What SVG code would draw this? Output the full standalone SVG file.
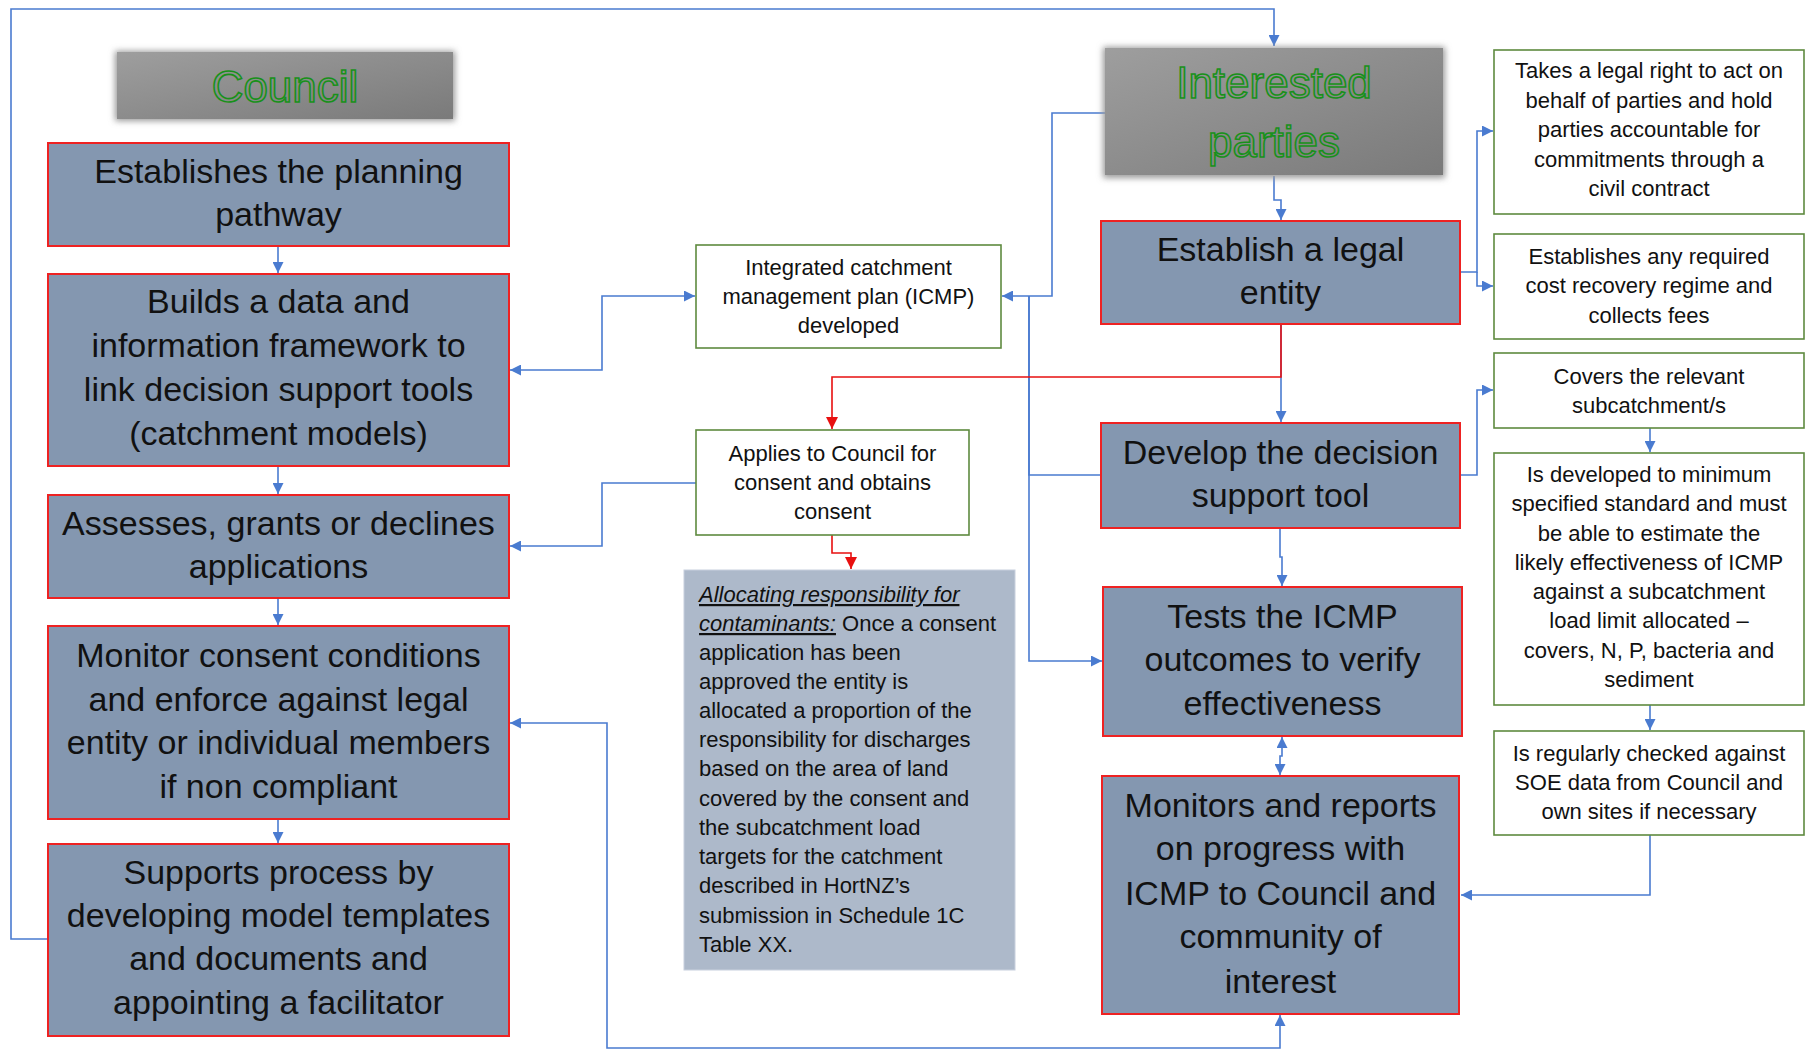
<svg xmlns="http://www.w3.org/2000/svg" width="1805" height="1051" viewBox="0 0 1805 1051">
<style>
  .big { fill: #8497b0; stroke: #ee2222; stroke-width: 2; }
  .small { fill: #ffffff; stroke: #5e8a3f; stroke-width: 1.6; }
  .alloc { fill: #adb9ca; stroke: #c8d0de; stroke-width: 1; }
  .hdr { fill: url(#hdrGrad); }
  .shadow { fill: #9a9a9a; filter: url(#soft); }
  text { font-family: "Liberation Sans", Arial, sans-serif; fill: #111111; }
  .tb { font-size: 34px; text-anchor: middle; }
  .ts { font-size: 22px; text-anchor: middle; }
  .ta { font-size: 22px; }
  .th { font-size: 44px; text-anchor: middle; fill: #2aa02a; fill-opacity: 0.05; stroke: #18911a; stroke-width: 1.6; }
  .c { fill: none; stroke: #4a7bd0; stroke-width: 1.6; }
  .cr { fill: none; stroke: #e81010; stroke-width: 1.6; }
</style>
<defs>
  <linearGradient id="hdrGrad" x1="0" y1="0" x2="1" y2="1">
    <stop offset="0" stop-color="#9e9e9e"/>
    <stop offset="1" stop-color="#7a7a7a"/>
  </linearGradient>
  <filter id="soft" x="-10%" y="-20%" width="120%" height="140%">
    <feGaussianBlur stdDeviation="3"/>
  </filter>
  <marker id="ab" viewBox="0 0 10 10" refX="10" refY="5" markerWidth="11" markerHeight="11" markerUnits="userSpaceOnUse" orient="auto-start-reverse">
    <path d="M0,0 L10,5 L0,10 z" fill="#4a7bd0"/>
  </marker>
  <marker id="ar" viewBox="0 0 10 10" refX="10" refY="5" markerWidth="12" markerHeight="12" markerUnits="userSpaceOnUse" orient="auto-start-reverse">
    <path d="M0,0 L10,5 L0,10 z" fill="#e81010"/>
  </marker>
</defs>
<rect width="1805" height="1051" fill="#ffffff"/>

<g id="connectors">
  <path class="c" d="M48,939 H11 V9 H1274 V46" marker-end="url(#ab)"/>
  <path class="c" d="M278,246 V273" marker-end="url(#ab)"/>
  <path class="c" d="M278,466 V494" marker-end="url(#ab)"/>
  <path class="c" d="M278,598 V625" marker-end="url(#ab)"/>
  <path class="c" d="M278,819 V843" marker-end="url(#ab)"/>
  <path class="c" d="M510,370 H602 V296 H695" marker-start="url(#ab)" marker-end="url(#ab)"/>
  <path class="c" d="M696,483 H602 V546 H510" marker-end="url(#ab)"/>
  <path class="c" d="M510,723 H607 V1048 H1280 V1015" marker-start="url(#ab)" marker-end="url(#ab)"/>
  <path class="c" d="M1105,113 H1052 V296 H1002" marker-end="url(#ab)"/>
  <path class="c" d="M1101,475 H1029 V296"/>
  <path class="c" d="M1029,296 V661 H1102" marker-end="url(#ab)"/>
  <path class="c" d="M1274,176 V200 H1281 V220" marker-end="url(#ab)"/>
  <path class="c" d="M1460,272 H1477 V131 H1493" marker-end="url(#ab)"/>
  <path class="c" d="M1477,272 V286 H1493" marker-end="url(#ab)"/>
  <path class="c" d="M1281,324 V422" marker-end="url(#ab)"/>
  <path class="cr" d="M1281,324 V377 H832 V429" marker-end="url(#ar)"/>
  <path class="c" d="M1460,475 H1477 V390 H1493" marker-end="url(#ab)"/>
  <path class="c" d="M1650,428 V452" marker-end="url(#ab)"/>
  <path class="c" d="M1650,705 V730" marker-end="url(#ab)"/>
  <path class="c" d="M1650,835 V895 H1461" marker-end="url(#ab)"/>
  <path class="c" d="M1280,528 V557 H1282 V586" marker-end="url(#ab)"/>
  <path class="c" d="M1282,737 V756 H1280 V775" marker-start="url(#ab)" marker-end="url(#ab)"/>
  <path class="cr" d="M832,535 V553 H851 V569" marker-end="url(#ar)"/>
</g>

<g id="council-header">
  <rect class="shadow" x="115" y="51" width="340" height="70"/>
  <rect class="hdr" x="117" y="52" width="336" height="67"/>
  <text class="th" x="285" y="102">Council</text>
</g>

<g id="interested-parties-header">
  <rect class="shadow" x="1103" y="47" width="342" height="131"/>
  <rect class="hdr" x="1105" y="48" width="338" height="127"/>
  <text class="th" x="1274" y="98">Interested</text>
  <text class="th" x="1274" y="157">parties</text>
</g>

<g id="b1">
  <rect class="big" x="48" y="143" width="461" height="103"/>
  <text class="tb" x="278.5" y="183">Establishes the planning</text>
  <text class="tb" x="278.5" y="226">pathway</text>
</g>
<g id="b2">
  <rect class="big" x="48" y="274" width="461" height="192"/>
  <text class="tb" x="278.5" y="313">Builds a data and</text>
  <text class="tb" x="278.5" y="357">information framework to</text>
  <text class="tb" x="278.5" y="401">link decision support tools</text>
  <text class="tb" x="278.5" y="445">(catchment models)</text>
</g>
<g id="b3">
  <rect class="big" x="48" y="495" width="461" height="103"/>
  <text class="tb" x="278.5" y="535">Assesses, grants or declines</text>
  <text class="tb" x="278.5" y="578">applications</text>
</g>
<g id="b4">
  <rect class="big" x="48" y="626" width="461" height="193"/>
  <text class="tb" x="278.5" y="667">Monitor consent conditions</text>
  <text class="tb" x="278.5" y="711">and enforce against legal</text>
  <text class="tb" x="278.5" y="754">entity or individual members</text>
  <text class="tb" x="278.5" y="798">if non compliant</text>
</g>
<g id="b5">
  <rect class="big" x="48" y="844" width="461" height="192"/>
  <text class="tb" x="278.5" y="884">Supports process by</text>
  <text class="tb" x="278.5" y="927">developing model templates</text>
  <text class="tb" x="278.5" y="970">and documents and</text>
  <text class="tb" x="278.5" y="1014">appointing a facilitator</text>
</g>

<g id="icmp">
  <rect class="small" x="696" y="245" width="305" height="103"/>
  <text class="ts" x="848.5" y="275">Integrated catchment</text>
  <text class="ts" x="848.5" y="304">management plan (ICMP)</text>
  <text class="ts" x="848.5" y="333">developed</text>
</g>
<g id="applies">
  <rect class="small" x="696" y="430" width="273" height="105"/>
  <text class="ts" x="832.5" y="461">Applies to Council for</text>
  <text class="ts" x="832.5" y="490">consent and obtains</text>
  <text class="ts" x="832.5" y="519">consent</text>
</g>
<g id="allocating">
  <rect class="alloc" x="684" y="570" width="331" height="400"/>
  <text class="ta" x="699" y="602"><tspan font-style="italic" text-decoration="underline">Allocating responsibility for</tspan></text>
  <text class="ta" x="699" y="631"><tspan font-style="italic" text-decoration="underline">contaminants:</tspan> Once a consent</text>
  <text class="ta" x="699" y="660">application has been</text>
  <text class="ta" x="699" y="689">approved the entity is</text>
  <text class="ta" x="699" y="718">allocated a proportion of the</text>
  <text class="ta" x="699" y="747">responsibility for discharges</text>
  <text class="ta" x="699" y="776">based on the area of land</text>
  <text class="ta" x="699" y="806">covered by the consent and</text>
  <text class="ta" x="699" y="835">the subcatchment load</text>
  <text class="ta" x="699" y="864">targets for the catchment</text>
  <text class="ta" x="699" y="893">described in HortNZ’s</text>
  <text class="ta" x="699" y="923">submission in Schedule 1C</text>
  <text class="ta" x="699" y="952">Table XX.</text>
</g>

<g id="establish">
  <rect class="big" x="1101" y="221" width="359" height="103"/>
  <text class="tb" x="1280.5" y="261">Establish a legal</text>
  <text class="tb" x="1280.5" y="304">entity</text>
</g>
<g id="develop">
  <rect class="big" x="1101" y="423" width="359" height="105"/>
  <text class="tb" x="1280.5" y="464">Develop the decision</text>
  <text class="tb" x="1280.5" y="507">support tool</text>
</g>
<g id="tests">
  <rect class="big" x="1103" y="587" width="359" height="149"/>
  <text class="tb" x="1282.5" y="628">Tests the ICMP</text>
  <text class="tb" x="1282.5" y="671">outcomes to verify</text>
  <text class="tb" x="1282.5" y="715">effectiveness</text>
</g>
<g id="monitors">
  <rect class="big" x="1102" y="776" width="357" height="238"/>
  <text class="tb" x="1280.5" y="817">Monitors and reports</text>
  <text class="tb" x="1280.5" y="860">on progress with</text>
  <text class="tb" x="1280.5" y="905">ICMP to Council and</text>
  <text class="tb" x="1280.5" y="948">community of</text>
  <text class="tb" x="1280.5" y="993">interest</text>
</g>

<g id="takes">
  <rect class="small" x="1494" y="50" width="310" height="164"/>
  <text class="ts" x="1649" y="78">Takes a legal right to act on</text>
  <text class="ts" x="1649" y="107.5">behalf of parties and hold</text>
  <text class="ts" x="1649" y="137">parties accountable for</text>
  <text class="ts" x="1649" y="166.5">commitments through a</text>
  <text class="ts" x="1649" y="196">civil contract</text>
</g>
<g id="establishes">
  <rect class="small" x="1494" y="234" width="310" height="105"/>
  <text class="ts" x="1649" y="264">Establishes any required</text>
  <text class="ts" x="1649" y="293">cost recovery regime and</text>
  <text class="ts" x="1649" y="323">collects fees</text>
</g>
<g id="covers">
  <rect class="small" x="1494" y="353" width="310" height="75"/>
  <text class="ts" x="1649" y="384">Covers the relevant</text>
  <text class="ts" x="1649" y="413">subcatchment/s</text>
</g>
<g id="is-developed">
  <rect class="small" x="1494" y="453" width="310" height="252"/>
  <text class="ts" x="1649" y="482">Is developed to minimum</text>
  <text class="ts" x="1649" y="511">specified standard and must</text>
  <text class="ts" x="1649" y="541">be able to estimate the</text>
  <text class="ts" x="1649" y="570">likely effectiveness of ICMP</text>
  <text class="ts" x="1649" y="599">against a subcatchment</text>
  <text class="ts" x="1649" y="628">load limit allocated –</text>
  <text class="ts" x="1649" y="658">covers, N, P, bacteria and</text>
  <text class="ts" x="1649" y="687">sediment</text>
</g>
<g id="is-regularly">
  <rect class="small" x="1494" y="731" width="310" height="104"/>
  <text class="ts" x="1649" y="761">Is regularly checked against</text>
  <text class="ts" x="1649" y="790">SOE data from Council and</text>
  <text class="ts" x="1649" y="819">own sites if necessary</text>
</g>
</svg>
